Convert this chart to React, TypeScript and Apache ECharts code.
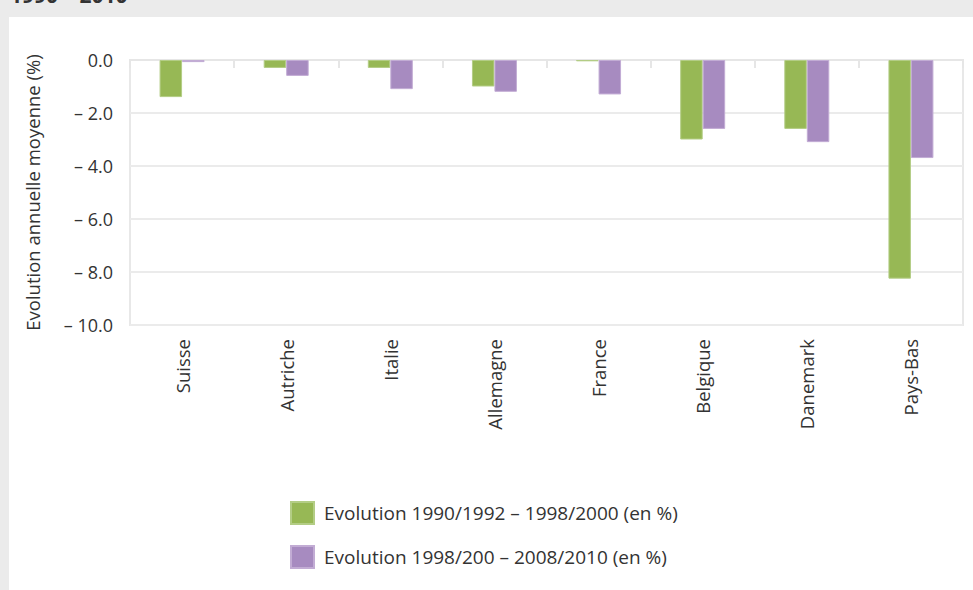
import React, { useEffect, useRef } from "react";
import * as echarts from "echarts";

const categories = ["Suisse", "Autriche", "Italie", "Allemagne", "France", "Belgique", "Danemark", "Pays-Bas"];
const evolution1990s = [-1.4, -0.3, -0.3, -1.0, -0.05, -3.0, -2.6, -8.25];
const evolution2000s = [-0.08, -0.6, -1.1, -1.2, -1.3, -2.6, -3.1, -3.7];
const seriesNames = ["Evolution 1990/1992 – 1998/2000 (en %)", "Evolution 1998/200 – 2008/2010 (en %)"];
const yMin = -10;
const yMax = 0;
const yInterval = 2;
const yAxisTitle = "Evolution annuelle moyenne (%)";
const clippedTitle = "1990 – 2010";

const FONT = "Open Sans";

export default function App() {
  const ref = useRef<HTMLDivElement>(null);
  useEffect(() => {
    if (!ref.current) return;
    const chart = echarts.init(ref.current, undefined, { renderer: "svg" });
    chart.setOption({
      animation: false,
      backgroundColor: "#ebebeb",
      textStyle: { fontFamily: FONT },
      graphic: [
        { type: "rect", shape: { x: 9, y: 17, width: 980, height: 600 }, style: { fill: "#ffffff" }, z: -10 },
        {
          type: "text",
          x: 10,
          y: -16,
          style: { text: clippedTitle, fontSize: 21, fontWeight: "bold", fill: "#333333", fontFamily: FONT, verticalAlign: "top" },
        },
      ],
      grid: {
        left: 130,
        right: 10,
        top: 60,
        bottom: 265,
        show: true,
        borderColor: "#e8e8e8",
        borderWidth: 2,
        backgroundColor: "transparent",
      },
      legend: {
        orient: "vertical",
        left: 285,
        top: 496,
        itemWidth: 23,
        itemHeight: 22,
        itemGap: 20,
        icon: "rect",
        textStyle: { fontSize: 19, color: "#333333", fontFamily: FONT, padding: [0, 0, 0, 5] },
        data: seriesNames,
      },
      xAxis: {
        type: "category",
        data: categories,
        position: "bottom",
        axisLine: { show: true, lineStyle: { color: "#e6e6e6", width: 2 } },
        axisTick: { show: true, length: 8, lineStyle: { color: "#e6e6e6", width: 2 } },
        axisLabel: { rotate: 90, fontSize: 18.5, color: "#333333", margin: 14, fontFamily: FONT },
        splitLine: { show: false },
      },
      yAxis: {
        type: "value",
        min: yMin,
        max: yMax,
        interval: yInterval,
        name: yAxisTitle,
        nameLocation: "middle",
        nameGap: 88,
        nameRotate: 90,
        nameTextStyle: { fontSize: 18.5, color: "#333333", fontFamily: FONT },
        axisLine: { show: false },
        axisTick: { show: false },
        axisLabel: {
          fontSize: 18,
          color: "#333333",
          margin: 17,
          fontFamily: FONT,
          formatter: (v: number) => (v === 0 ? "0.0" : "– " + Math.abs(v).toFixed(1)),
        },
        splitLine: { show: true, lineStyle: { color: "#ebebeb", width: 2 } },
      },
      series: [
        {
          name: seriesNames[0],
          type: "bar",
          data: evolution1990s,
          barWidth: "21.6%",
          barGap: "0%",
          itemStyle: { color: "#97b855", borderColor: "#b3cd85", borderWidth: 1 },
        },
        {
          name: seriesNames[1],
          type: "bar",
          data: evolution2000s,
          barWidth: "21.6%",
          barGap: "0%",
          itemStyle: { color: "#a78bc0", borderColor: "#c2acd4", borderWidth: 1 },
        },
      ],
    });
    return () => chart.dispose();
  }, []);
  return <div ref={ref} style={{ position: "absolute", left: 0, top: 0, width: 973, height: 590 }} />;
}
